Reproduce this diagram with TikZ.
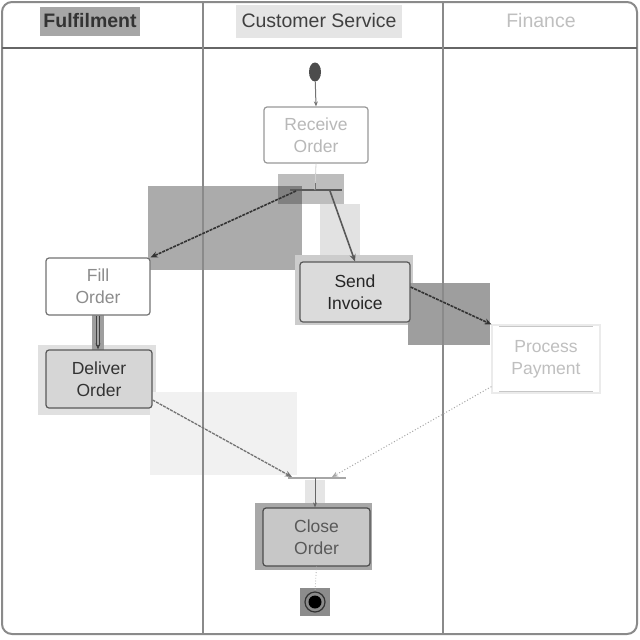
\documentclass[tikz,border=0pt]{standalone}
\usepackage{fontspec}
\setmainfont{Liberation Sans}
\usetikzlibrary{arrows.meta,shapes.geometric,calc}
\definecolor{framec}{HTML}{8A8A8A}
\definecolor{ovdark}{HTML}{ABABAB}
\definecolor{ovmid}{HTML}{BDBDBD}
\definecolor{ovlight}{HTML}{E2E2E2}
\definecolor{ovpale}{HTML}{F1F1F1}
\tikzset{
  act/.style={draw=#1, rounded corners=3pt, line width=1.2pt, align=center, inner sep=0pt,
    font=\fontsize{17.5}{22}\selectfont},
  flow/.style={-{Stealth[length=7pt,width=6pt]}, line width=1.6pt, draw=black!80, dashed, dash pattern=on 3pt off 1pt},
  lightflow/.style={-{Stealth[length=6pt,width=5pt]}, line width=1pt, draw=black!35, dotted},
  bar/.style={line width=1.6pt},
  lane/.style={line width=2pt, draw=framec},
  head/.style={font=\fontsize{19.5}{22}\selectfont, inner sep=0pt}
}
\begin{document}
\begin{tikzpicture}[x=1pt,y=-1pt]
\useasboundingbox (0,0) rectangle (640,640);
\fill[white] (0,0) rectangle (640,640);
% overlay patches
\fill[ovdark] (148,186) rectangle (302,270);
\fill[ovmid] (278,174) rectangle (344,204);
\fill[black!50] (278,186) rectangle (302,204);
\fill[ovlight] (320,204) rectangle (360,257);
\fill[black!20] (295,255) rectangle (413,325);
\fill[black!38] (408,283) rectangle (490,345);
\fill[black!12] (38,345) rectangle (156,415);
\fill[black!38] (92,315) rectangle (104,350);
\fill[ovpale] (150,392) rectangle (297,475);
\fill[black!10] (305,480) rectangle (325,508);
\fill[black!34] (255,503) rectangle (372,570);
\fill[black!45] (300,588) rectangle (330,616);
\fill[black!35] (40,7) rectangle (140,36);
\fill[black!10] (236,5) rectangle (402,38);
% frame and lanes
\draw[lane, rounded corners=10pt] (2,2) rectangle (637,634);
\draw[line width=1.5pt, draw=black!60] (2,48) -- (637,48);
\draw[lane] (203,2) -- (203,634);
\draw[lane] (443,2) -- (443,634);
% headers
\node[head, font=\bfseries\fontsize{19.5}{22}\selectfont, text=black!80] (h1) at (90,21) {Fulfilment};
\node[head, text=black!75] (h2) at (319,21) {Customer Service};
\node[head, text=black!25] (h3) at (541,21) {Finance};
% nodes
\node[ellipse, fill=black!70, minimum width=12pt, minimum height=19pt, inner sep=0pt] (start) at (315,72) {};
\node[act=black!40, fill=white, text=black!28, minimum width=104pt, minimum height=56pt] (recv) at (316,135) {Receive\\Order};
\coordinate (forkL) at (290,190);
\coordinate (forkR) at (342,190);
\coordinate (forkA) at (296,191);
\coordinate (forkB) at (330,191);
\coordinate (forkIn) at (315,190);
\node[act=black!55, fill=white, text=black!45, minimum width=104pt, minimum height=57pt] (fill) at (98,286.5) {Fill\\Order};
\node[act=black!65, fill=black!16, text=black!80, minimum width=106pt, minimum height=58pt] (deliver) at (99,379) {Deliver\\Order};
\node[act=black!65, fill=black!14, text=black!85, minimum width=110pt, minimum height=60pt] (send) at (355,292) {Send\\Invoice};
\node[act=black!8, rounded corners=0pt, fill=white, text=black!25, minimum width=108pt, minimum height=68pt] (pay) at (546,359) {Process\\Payment};
\draw[line width=1.2pt, draw=black!22] ($(pay.north west)+(8,2)$) -- ($(pay.north east)+(-8,2)$);
\draw[line width=1.2pt, draw=black!22] ($(pay.south west)+(8,-2)$) -- ($(pay.south east)+(-8,-2)$);
\coordinate (joinL) at (288,478);
\coordinate (joinR) at (346,478);
\coordinate (joinA) at (292,477);
\coordinate (joinB) at (332,477);
\coordinate (joinOut) at (315,478);
\node[act=black!70, fill=black!22, text=black!65, minimum width=107pt, minimum height=58pt] (close) at (316.5,537) {Close\\Order};
\node[circle, draw=black!80, line width=1.2pt, minimum size=20pt, inner sep=0pt] (end) at (315,602) {};
\fill[black] (end.center) circle (6.5pt);
% bars
\draw[bar, draw=black!65] (forkL) -- (forkR);
\draw[bar, draw=black!35] (joinL) -- (joinR);
% connectors
\draw[-{Stealth[length=5pt,width=4pt]}, line width=1pt, draw=black!55] (start) -- (recv.north);
\draw[line width=0.8pt, draw=black!18] (recv.south) -- (forkIn);
\draw[line width=1pt, draw=black!55] (315,183) -- (forkIn);
\draw[flow] (forkA) -- (fill.north east);
\draw[flow, draw=black!65, solid] (forkB) -- (send.north);
\draw[-{Stealth[length=6pt,width=5pt]}, line width=1.4pt, draw=black!75, double=black!35, double distance=1.5pt] (fill.south) -- (fill.south |- deliver.north);
\draw[flow] (send.east |- 0,287) -- (pay.north west);
\draw[flow, draw=black!55, line width=1.3pt] (deliver.east |- 0,400) -- (joinA);
\draw[lightflow] ($(pay.south west)+(0,-7)$) -- (joinB);
\draw[-{Stealth[length=5pt,width=4pt]}, line width=1pt, draw=black!60] (joinOut) -- (joinOut |- close.north);
\draw[line width=0.8pt, draw=black!30, dotted] (close.south) -- (end.north);
\end{tikzpicture}
\end{document}
